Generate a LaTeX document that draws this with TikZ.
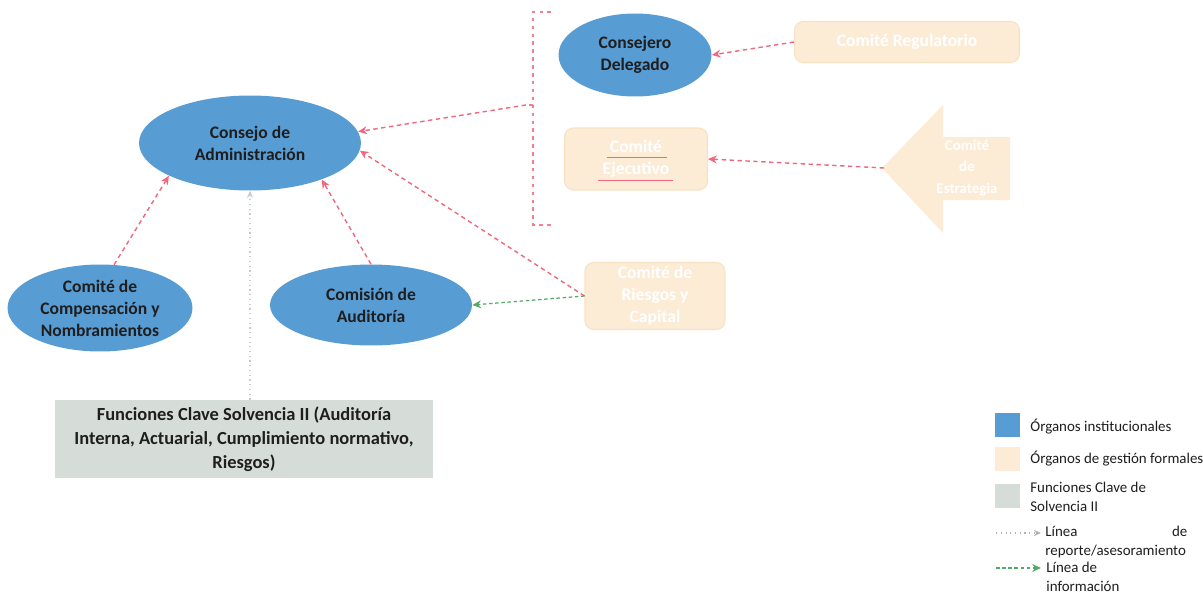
\documentclass[tikz,border=0pt]{standalone}
\usepackage{fontspec}
\setmainfont{Carlito}
\usetikzlibrary{arrows.meta,shapes.geometric}
\definecolor{instblue}{RGB}{88,156,212}
\definecolor{peach}{RGB}{252,236,214}
\definecolor{peachline}{RGB}{248,226,196}
\definecolor{funcgray}{RGB}{214,221,217}
\definecolor{redline}{RGB}{240,104,126}
\definecolor{greenline}{RGB}{84,168,104}
\definecolor{faintline}{RGB}{196,204,216}
\definecolor{txtdark}{RGB}{30,30,30}
\tikzset{
  inst/.style={ellipse, fill=instblue, draw=none, align=center, text=txtdark,
     font=\fontsize{10}{12.5}\selectfont\bfseries, inner sep=0pt},
  gest/.style={rectangle, rounded corners=5pt, fill=peach, draw=peachline, line width=0.6pt,
     align=center, text=white, font=\fontsize{10}{12.5}\selectfont\bfseries, inner sep=0pt},
  funcbox/.style={rectangle, fill=funcgray, draw=none, align=center, text=txtdark,
     font=\fontsize{10.5}{13.6}\selectfont\bfseries, inner sep=0pt},
  redarrow/.style={draw=redline, dashed, dash pattern=on 2.5pt off 2pt, line width=0.8pt,
     -{Stealth[length=5pt,width=4.5pt]}},
  greenarrow/.style={draw=greenline, dashed, dash pattern=on 2pt off 1.5pt, line width=0.7pt,
     -{Stealth[length=5pt,width=4.5pt]}},
  faintarrow/.style={draw=faintline, dotted, line width=0.7pt, -{Stealth[length=4pt,width=3.5pt]}},
  bracketline/.style={draw=redline!85, dash pattern=on 2pt off 2.5pt, line width=0.6pt},
  legsq/.style={rectangle, minimum width=0.5cm, minimum height=0.48cm, inner sep=0pt, draw=none},
  legtxt/.style={anchor=west, align=left, text=txtdark, font=\fontsize{8.5}{11}\selectfont, inner sep=0pt}
}
\begin{document}
\begin{tikzpicture}[x=0.02cm, y=-0.02cm]
\useasboundingbox (0,0) rectangle (1203,595);
\fill[white] (0,0) rectangle (1203,595);

% institutional bodies
\node[inst, minimum width=4.44cm, minimum height=1.9cm] (cadm) at (250,143) {Consejo de\\Administración};
\node[inst, minimum width=3.06cm, minimum height=1.66cm] (cdel) at (635,55) {Consejero\\Delegado};
\node[inst, minimum width=3.7cm, minimum height=1.74cm] (ccomp) at (100,308) {Comité de\\Compensación y\\Nombramientos};
\node[inst, minimum width=4.04cm, minimum height=1.62cm] (caud) at (371,305) {Comisión de\\Auditoría};

% key functions
\node[funcbox, minimum width=7.56cm, minimum height=1.56cm] (func) at (244,439)
  {Funciones Clave Solvencia II (Auditoría\\Interna, Actuarial, Cumplimiento normativo,\\Riesgos)};

% formal management bodies
\node[gest, minimum width=4.5cm, minimum height=0.82cm] (creg) at (907,42) {Comité Regulatorio};
\node[gest, minimum width=2.86cm, minimum height=1.24cm] (cejec) at (636,159) {Comité\\Ejecutivo};
\draw[redline, line width=0.5pt] (607,157) -- (667,157);
\draw[redline, line width=0.5pt] (598,180) -- (673,180);
\node[gest, minimum width=2.8cm, minimum height=1.34cm] (ries) at (655,296) {Comité de\\Riesgos y\\Capital};

% strategy arrow shape
\fill[peach] (882,168) -- (943,105) -- (943,137) -- (1010,137) -- (1010,200) -- (943,200) -- (943,233) -- cycle;
\coordinate (esttip) at (884,168);
\node[align=center, text=white, font=\fontsize{8.5}{12.5}\selectfont\bfseries, inner sep=0pt] (est) at (967,168) {Comité\\de\\Estrategia};

% bracket
\coordinate (brk) at (526,105);
\draw[bracketline] (551,12) -- (533,12) -- (533,225) -- (551,225);
\draw[bracketline] (533,105) -- (brk);

% connectors
\draw[redarrow] (brk) -- (cadm.6);
\draw[redarrow] (ries.west) -- (cadm.-4);
\draw[greenarrow] (ries.west) -- (caud.east);
\draw[redarrow] (ccomp.72) -- (cadm.-158);
\draw[redarrow] (caud.north) -- (cadm.-27);
\draw[faintarrow] (func.north -| cadm.south) -- (cadm.south);
\draw[redarrow] (creg.west) -- (cdel.east);
\draw[redarrow] (esttip) -- (cejec.east);

% legend
\node[legsq, fill=instblue] (l1) at (1007,425) {};
\node[legtxt] (t1) at (1030,427) {Órganos institucionales};
\node[legsq, fill=peach] (l2) at (1007,459) {};
\node[legtxt] (t2) at (1030,459) {Órganos de gestión formales};
\node[legsq, fill=funcgray] (l3) at (1007,496) {};
\node[legtxt] (t3) at (1030,497) {Funciones Clave de\\Solvencia II};
\coordinate (l4a) at (996,533);
\coordinate (l4b) at (1041,533);
\draw[draw=gray!60, dotted, line width=0.7pt, -{Stealth[length=4pt,width=3.5pt]}] (l4a) -- (l4b);
\node[legtxt, text width=2.84cm] (t4) at (1045,542) {Línea\hfill de\\reporte/asesoramiento};
\coordinate (l5a) at (996,568);
\coordinate (l5b) at (1041,568);
\draw[greenarrow] (l5a) -- (l5b);
\node[legtxt] (t5) at (1046,577) {Línea de\\información};
\end{tikzpicture}
\end{document}
